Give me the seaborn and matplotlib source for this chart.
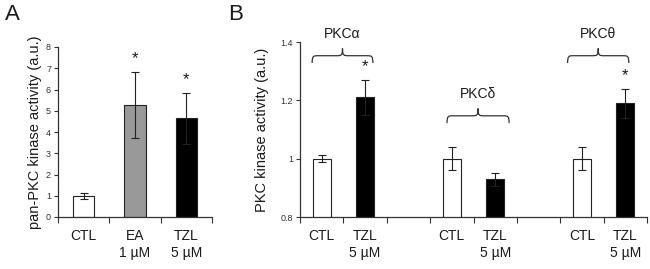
import matplotlib
matplotlib.use("Agg")
import matplotlib.pyplot as plt
from matplotlib.path import Path
from matplotlib.patches import PathPatch
import seaborn as sns
import pandas as pd

sns.set_style("white")
plt.rcParams['font.family'] = ['Liberation Sans', 'DejaVu Sans']

# ---------------- data ----------------
a_categories = ["CTL", "EA\n1 µM", "TZL\n5 µM"]
a_values = [1.0, 5.27, 4.65]
a_errors = [0.13, 1.55, 1.2]
a_colors = ["white", "#999999", "black"]
a_signif = [False, True, True]

b_slots = ["CTL_a", "TZL_a", "gap1", "CTL_d", "TZL_d", "gap2", "CTL_t", "TZL_t"]
b_slot_labels = ["CTL", "TZL\n5 µM", "", "CTL", "TZL\n5 µM", "", "CTL", "TZL\n5 µM"]
b_categories = ["CTL_a", "TZL_a", "CTL_d", "TZL_d", "CTL_t", "TZL_t"]
b_values = [1.0, 1.21, 1.0, 0.929, 1.0, 1.19]
b_errors = [0.012, 0.06, 0.04, 0.022, 0.04, 0.05]
b_colors = ["white", "black", "white", "black", "white", "black"]
b_signif = [False, True, False, False, False, True]
b_groups = ["PKCα", "PKCδ", "PKCθ"]
b_group_x = [(-0.22, 1.18), (2.89, 4.32), (5.67, 7.08)]
b_group_y = [1.328, 1.122, 1.328]

fig = plt.figure(figsize=(6.5, 2.69), dpi=100)
axA = fig.add_axes([58/650, 1-217/269, (212-58)/650, (217-47)/269])
axB = fig.add_axes([300/650, 1-217/269, (647-300)/650, (217-42)/269])

TXT = "#1a1a1a"

def style(ax):
    for s in ["top", "right"]:
        ax.spines[s].set_visible(False)
    for s in ["left", "bottom"]:
        ax.spines[s].set_color("#333333")
        ax.spines[s].set_linewidth(0.9)
    ax.tick_params(axis="y", which="major", direction="out", length=3, width=0.8,
                   labelsize=6.5, colors="#333333", pad=2, left=True)
    ax.tick_params(axis="x", which="major", direction="out", length=4, width=0.8,
                   colors="#333333", bottom=True, labelbottom=False)
    ax.tick_params(axis="x", which="minor", length=0, labelsize=10, pad=9,
                   labelcolor=TXT, bottom=True)

def brace(ax, x0, x1, y, h):
    xm = (x0 + x1) / 2
    q = h * 0.5
    dx = 0.14
    verts = [(x0, y), (x0, y + q), (x0 + dx * 0.2, y + q), (x0 + dx, y + q),
             (xm - dx, y + q), (xm - dx * 0.2, y + q), (xm, y + q), (xm, y + h),
             (xm, y + h), (xm, y + q), (xm + dx * 0.2, y + q), (xm + dx, y + q),
             (x1 - dx, y + q), (x1 - dx * 0.2, y + q), (x1, y + q), (x1, y)]
    codes = [Path.MOVETO, Path.CURVE4, Path.CURVE4, Path.CURVE4,
             Path.LINETO, Path.CURVE4, Path.CURVE4, Path.CURVE4,
             Path.MOVETO, Path.CURVE4, Path.CURVE4, Path.CURVE4,
             Path.LINETO, Path.CURVE4, Path.CURVE4, Path.CURVE4]
    ax.add_patch(PathPatch(Path(verts, codes), fill=False, lw=0.9,
                           edgecolor="#333333", clip_on=False))

# ---------------- Panel A ----------------
dfA = pd.DataFrame({"cat": a_categories, "val": a_values})
sns.barplot(data=dfA, x="cat", y="val", hue="cat", order=a_categories,
            palette=dict(zip(a_categories, a_colors)), legend=False,
            width=0.42, edgecolor="#222222", linewidth=0.8, ax=axA)
xa = list(range(len(a_categories)))
axA.errorbar(xa, a_values, yerr=a_errors, fmt="none", ecolor="#222222",
             elinewidth=0.8, capsize=3, capthick=0.8)
for x, v, e, s in zip(xa, a_values, a_errors, a_signif):
    if s:
        axA.annotate("*", (x, v + e), xytext=(0, 4), textcoords="offset points",
                     ha="center", va="bottom", fontsize=12, color=TXT)
axA.set_xlim(-0.5, len(a_categories) - 0.5)
axA.set_ylim(0, 8)
axA.set_yticks(range(0, 9))
axA.set_xticks([i - 0.5 for i in range(len(a_categories) + 1)])
axA.set_xticks(xa, minor=True)
axA.set_xticklabels(a_categories, minor=True)
axA.set_xlabel("")
axA.set_ylabel("pan-PKC kinase activity (a.u.)", fontsize=10.5, color=TXT, labelpad=3)
style(axA)

# ---------------- Panel B ----------------
dfB = pd.DataFrame({"cat": b_categories, "val": b_values})
sns.barplot(data=dfB, x="cat", y="val", hue="cat", order=b_slots,
            palette=dict(zip(b_categories, b_colors)), legend=False,
            width=0.42, edgecolor="#222222", linewidth=0.8, ax=axB)
xb = [b_slots.index(c) for c in b_categories]
axB.errorbar(xb, b_values, yerr=b_errors, fmt="none", ecolor="#222222",
             elinewidth=0.8, capsize=3, capthick=0.8)
for x, v, e, s in zip(xb, b_values, b_errors, b_signif):
    if s:
        axB.annotate("*", (x, v + e), xytext=(0, 4), textcoords="offset points",
                     ha="center", va="bottom", fontsize=12, color=TXT)
for name, (x0, x1), y in zip(b_groups, b_group_x, b_group_y):
    brace(axB, x0, x1, y, 0.05)
    axB.text((x0 + x1) / 2, y + 0.075, name, ha="center", va="bottom",
             fontsize=10, color=TXT, clip_on=False)
axB.set_xlim(-0.5, len(b_slots) - 0.5)
axB.set_ylim(0.8, 1.4)
axB.set_yticks([0.8, 1.0, 1.2, 1.4])
axB.set_yticklabels(["0.8", "1", "1.2", "1.4"])
axB.set_xticks([i - 0.5 for i in range(len(b_slots) + 1)])
axB.set_xticks(range(len(b_slots)), minor=True)
axB.set_xticklabels(b_slot_labels, minor=True)
axB.set_xlabel("")
axB.set_ylabel("PKC kinase activity (a.u.)", fontsize=10.5, color=TXT, labelpad=8)
style(axB)

fig.text(5/650, 1-4/269, "A", fontsize=16, va="top", ha="left", color=TXT)
fig.text(228/650, 1-4/269, "B", fontsize=16, va="top", ha="left", color=TXT)

fig.savefig("out.png", dpi=100)
